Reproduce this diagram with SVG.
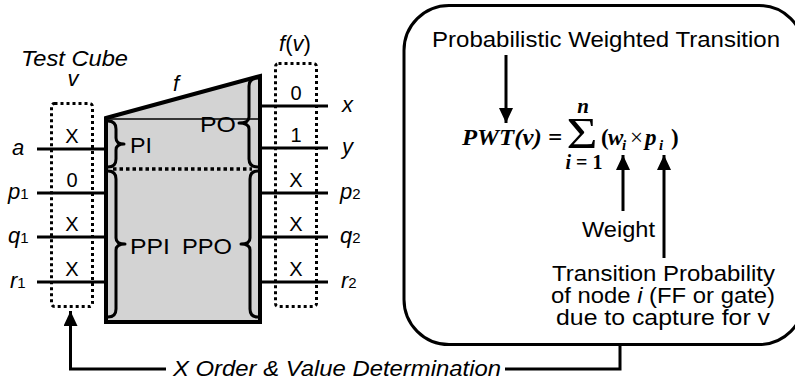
<svg xmlns="http://www.w3.org/2000/svg" width="795" height="381" viewBox="0 0 795 381">
<style>
text { font-family: "Liberation Sans", Arial, sans-serif; fill: #000; font-size: 22px; }
.it { font-style: italic; }
.val { font-size: 20px; text-anchor: middle; }
.sub { font-size: 15px; }
.wire { stroke: #000; stroke-width: 3; fill: none; }
.dot { stroke: #000; stroke-width: 3; stroke-dasharray: 3 3; fill: none; }
.brace { stroke: #000; stroke-width: 3; fill: none; stroke-linejoin: round; stroke-linecap: round; }
.conn { stroke: #000; stroke-width: 3; fill: none; }
.m { font-family: "Liberation Serif", "Times New Roman", serif; font-weight: bold; font-size: 23px; }
.mi { font-family: "Liberation Serif", "Times New Roman", serif; font-weight: bold; font-style: italic; font-size: 23px; }
.msub { font-size: 15px; }
.sig { font-family: "Liberation Serif", "Times New Roman", serif; font-size: 44px; text-anchor: middle; }
.ser { font-family: "Liberation Serif", "Times New Roman", serif; font-size: 23px; }
</style>
<defs>
<marker id="ah" markerUnits="userSpaceOnUse" markerWidth="15" markerHeight="14" viewBox="0 0 15 14" refX="15" refY="7" orient="auto">
<path d="M0,0 L15,7 L0,14 z" fill="#000"/>
</marker>
</defs>

<g id="circuit">
<polygon points="106,118 260,76 260,322 106,322" fill="#d3d3d3" stroke="#000" stroke-width="4" stroke-linejoin="miter"/>
<line x1="106" y1="119" x2="260" y2="119" stroke="#000" stroke-width="1.3"/>
<line x1="113" y1="169" x2="252" y2="169" stroke="#000" stroke-width="3.5" stroke-dasharray="3.5 3"/>
<path class="brace" d="M108,121 Q116,121 116,129 L116,138 Q116,144 124,144 Q116,144 116,150 L116,159 Q116,167 108,167"/>
<path class="brace" d="M108,171 Q116,171 116,179 L116,238 Q116,244 125,244 Q116,244 116,250 L116,309 Q116,317 108,317"/>
<path class="brace" d="M258,78 Q249,78 249,86 L249,117 Q249,123 239,123 Q249,123 249,129 L249,159 Q249,167 258,167"/>
<path class="brace" d="M258,171 Q250,171 250,179 L250,238 Q250,244 241,244 Q250,244 250,250 L250,309 Q250,317 258,317"/>
<text x="130" y="153" textLength="22" lengthAdjust="spacingAndGlyphs">PI</text>
<text x="200" y="132" textLength="36" lengthAdjust="spacingAndGlyphs">PO</text>
<text x="130" y="254" textLength="40" lengthAdjust="spacingAndGlyphs">PPI</text>
<text x="182" y="254" textLength="50" lengthAdjust="spacingAndGlyphs">PPO</text>
<text class="it" x="176" y="91" style="text-anchor:middle">f</text>
</g>

<g id="inputs">
<line class="wire" x1="37" y1="149" x2="106" y2="149"/>
<line class="wire" x1="37" y1="193" x2="106" y2="193"/>
<line class="wire" x1="37" y1="237" x2="106" y2="237"/>
<line class="wire" x1="37" y1="282" x2="106" y2="282"/>
<text class="it" x="12" y="155">a</text>
<text x="8" y="199"><tspan class="it">p</tspan><tspan class="sub">1</tspan></text>
<text x="8" y="243"><tspan class="it">q</tspan><tspan class="sub">1</tspan></text>
<text x="10" y="288"><tspan class="it">r</tspan><tspan class="sub">1</tspan></text>
</g>

<g id="test-cube">
<rect class="dot" x="51.5" y="103.5" width="41" height="203" rx="3"/>
<text class="val" x="72" y="143">X</text>
<text class="val" x="72" y="187">0</text>
<text class="val" x="72" y="231">X</text>
<text class="val" x="72" y="276">X</text>
<text class="it" x="21" y="66" textLength="107" lengthAdjust="spacingAndGlyphs">Test Cube</text>
<text class="it" x="73" y="86" style="text-anchor:middle">v</text>
</g>

<g id="outputs">
<line class="wire" x1="262" y1="106" x2="328" y2="106"/>
<line class="wire" x1="262" y1="148" x2="328" y2="148"/>
<line class="wire" x1="262" y1="193" x2="328" y2="193"/>
<line class="wire" x1="262" y1="237" x2="328" y2="237"/>
<line class="wire" x1="262" y1="282" x2="328" y2="282"/>
<text class="it" x="342" y="112">x</text>
<text class="it" x="342" y="154">y</text>
<text x="340" y="199"><tspan class="it">p</tspan><tspan class="sub">2</tspan></text>
<text x="340" y="243"><tspan class="it">q</tspan><tspan class="sub">2</tspan></text>
<text x="341" y="288"><tspan class="it">r</tspan><tspan class="sub">2</tspan></text>
</g>

<g id="response">
<rect class="dot" x="275.5" y="63.5" width="41" height="243" rx="3"/>
<text class="val" x="296" y="100">0</text>
<text class="val" x="296" y="142">1</text>
<text class="val" x="296" y="187">X</text>
<text class="val" x="296" y="231">X</text>
<text class="val" x="296" y="276">X</text>
<text x="279" y="51"><tspan class="it">f</tspan>(<tspan class="it">v</tspan>)</text>
</g>

<g id="pwt-box">
<rect x="404" y="5.5" width="400" height="339" rx="45" fill="none" stroke="#000" stroke-width="3"/>
<text x="432" y="47" textLength="348" lengthAdjust="spacingAndGlyphs">Probabilistic Weighted Transition</text>
<text class="mi" x="462" y="145" textLength="100" lengthAdjust="spacingAndGlyphs">PWT(v) =</text>
<text class="sig" x="582" y="148" textLength="31" lengthAdjust="spacingAndGlyphs">Σ</text>
<text class="mi" x="583" y="113" style="text-anchor:middle;font-size:21px">n</text>
<text class="m" x="584" y="169" style="text-anchor:middle;font-size:20px"><tspan style="font-style:italic">i</tspan> = 1</text>
<text class="m" x="601" y="145">(</text>
<text class="mi" x="608" y="145">w</text>
<text class="mi msub" x="622" y="150">i</text>
<text class="ser" x="630" y="145">×</text>
<text class="mi" x="645" y="145">p</text>
<text class="mi msub" x="659" y="150">i</text>
<text class="m" x="671" y="145">)</text>
<text x="582" y="237" textLength="73" lengthAdjust="spacingAndGlyphs">Weight</text>
<text x="552" y="281" textLength="223" lengthAdjust="spacingAndGlyphs">Transition Probability</text>
<text x="551" y="303" textLength="224" lengthAdjust="spacingAndGlyphs">of node <tspan class="it">i</tspan> (FF or gate)</text>
<text x="556" y="325" textLength="214" lengthAdjust="spacingAndGlyphs">due to capture for v</text>
</g>

<g id="connectors">
<path class="conn" d="M506,55 L506,123" marker-end="url(#ah)"/>
<path class="conn" d="M623,211 L623,155" marker-end="url(#ah)"/>
<path class="conn" d="M664,258 L664,155" marker-end="url(#ah)"/>
<path class="conn" d="M620,345 L620,369 L505,369"/>
<path class="conn" d="M166,369 L70.5,369 L70.5,311" marker-end="url(#ah)"/>
<text class="it" x="173" y="376" textLength="328" lengthAdjust="spacingAndGlyphs">X Order &amp; Value Determination</text>
</g>
</svg>
